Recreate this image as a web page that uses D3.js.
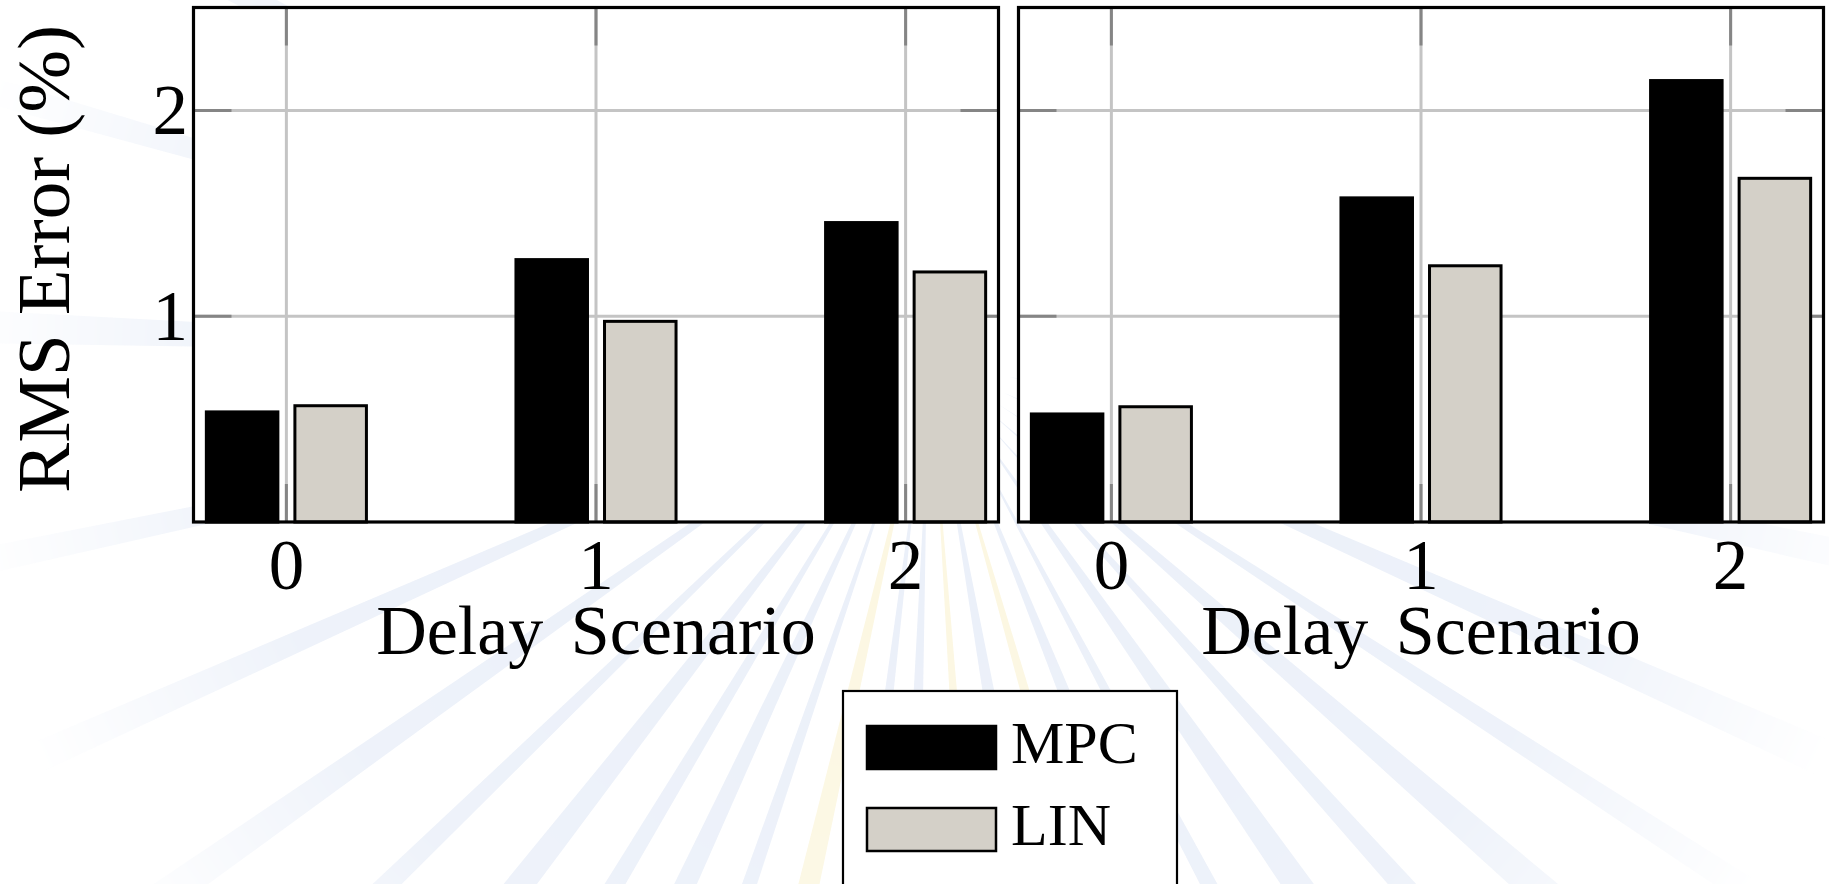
<!DOCTYPE html>
<html>
<head>
<meta charset="utf-8">
<script src="https://cdn.jsdelivr.net/npm/d3@7"></script>
<style>
  html, body { margin: 0; padding: 0; background: #ffffff; }
  svg { display: block; }
  text { font-family: "Liberation Serif", "Times New Roman", serif; fill: #000; }
</style>
</head>
<body>
<svg id="chart" width="1829" height="884"></svg>
<script>
// ---- data ----
const categories = [0, 1, 2];
const seriesNames = ["MPC", "LIN"];
const seriesColors = ["#000000", "#d4d0c8"];
const leftMPC = [0.535, 1.275, 1.455];
const leftLIN = [0.565, 0.975, 1.215];
const rightMPC = [0.525, 1.575, 2.145];
const rightLIN = [0.56, 1.245, 1.67];
const yTicks = [1, 2];
const yLabel = "RMS Error (%)";
const xLabel = "Delay Scenario";

// ---- faint background sunburst (angle in degrees, half-width in degrees, tone) ----
const rayAngles = [12, 24, 33, 41, 48, 55, 62, 68, 74, 80, 86, 92, 97, 103, 109, 115, 121, 128, 136, 145, 156, 168, 182, 196, 208];
const rayWidths = [0.9, 1.1, 0.8, 1.2, 0.9, 1.3, 0.8, 1.1, 0.9, 1.2, 0.8, 1.0, 0.9, 1.2, 0.8, 1.1, 0.9, 1.2, 0.8, 1.0, 0.9, 0.8, 1.0, 0.8, 0.9];
const rayTones = ["b","b","b","b","b","b","b","b","y","b","y","b","b","y","b","b","b","b","b","b","b","b","b","b","b"];

const svg = d3.select("#chart");

// sunburst behind everything, fading out with distance
const cx = 930, cy = 360, rOuter = 1150, rInner = 80;
const defs = svg.append("defs");
const fade = defs.append("radialGradient").attr("id", "rayFade")
  .attr("gradientUnits", "userSpaceOnUse")
  .attr("cx", cx).attr("cy", cy).attr("r", rOuter);
fade.append("stop").attr("offset", "0.2").attr("stop-color", "#fff").attr("stop-opacity", 1);
fade.append("stop").attr("offset", "0.6").attr("stop-color", "#fff").attr("stop-opacity", 0.85);
fade.append("stop").attr("offset", "0.85").attr("stop-color", "#fff").attr("stop-opacity", 0);
defs.append("mask").attr("id", "rayMask")
  .append("rect").attr("x", 0).attr("y", 0).attr("width", 1829).attr("height", 884)
  .attr("fill", "url(#rayFade)");

const rays = svg.append("g").attr("class", "rays").attr("mask", "url(#rayMask)");
const rad = d => d * Math.PI / 180;
rayAngles.forEach((a, i) => {
  const w = rayWidths[i];
  const p1 = [cx + rInner * Math.cos(rad(a)), cy + rInner * Math.sin(rad(a))];
  const p2 = [cx + rOuter * Math.cos(rad(a - w)), cy + rOuter * Math.sin(rad(a - w))];
  const p3 = [cx + rOuter * Math.cos(rad(a + w)), cy + rOuter * Math.sin(rad(a + w))];
  rays.append("path")
    .attr("d", d3.line()([p1, p2, p3]) + "Z")
    .attr("fill", rayTones[i] === "y" ? "#fcf7e2" : "#ebf0f9");
});

// ---- panels ----
const yTop = 7.5, yBottom = 522;
const panels = [
  { x0: 193.5, x1: 998.5, mpc: leftMPC, lin: leftLIN, showY: true },
  { x0: 1018.5, x1: 1823.5, mpc: rightMPC, lin: rightLIN, showY: false }
];

const y = d3.scaleLinear().domain([0, 2.5]).range([yBottom, yTop]);
const barW = 0.231;     // bar width in category units
const barShift = 0.143; // offset of each bar from its category
const tickLen = 38;

panels.forEach(p => {
  const x = d3.scaleLinear().domain([-0.3, 2.3]).range([p.x0, p.x1]);
  const g = svg.append("g");

  // plot background
  g.append("rect")
    .attr("x", p.x0).attr("y", yTop)
    .attr("width", p.x1 - p.x0).attr("height", yBottom - yTop)
    .attr("fill", "#ffffff");

  // grid
  g.selectAll("line.gy").data(yTicks).join("line")
    .attr("x1", p.x0).attr("x2", p.x1)
    .attr("y1", d => y(d)).attr("y2", d => y(d))
    .attr("stroke", "#c4c4c4").attr("stroke-width", 3);
  g.selectAll("line.gx").data(categories).join("line")
    .attr("x1", d => x(d)).attr("x2", d => x(d))
    .attr("y1", yTop).attr("y2", yBottom)
    .attr("stroke", "#c4c4c4").attr("stroke-width", 3);

  // inner tick marks on all four sides
  const tickCol = "#858585";
  yTicks.forEach(t => {
    g.append("line").attr("x1", p.x0).attr("x2", p.x0 + tickLen)
      .attr("y1", y(t)).attr("y2", y(t)).attr("stroke", tickCol).attr("stroke-width", 3);
    g.append("line").attr("x1", p.x1 - tickLen).attr("x2", p.x1)
      .attr("y1", y(t)).attr("y2", y(t)).attr("stroke", tickCol).attr("stroke-width", 3);
  });
  categories.forEach(c => {
    g.append("line").attr("x1", x(c)).attr("x2", x(c))
      .attr("y1", yTop).attr("y2", yTop + tickLen).attr("stroke", tickCol).attr("stroke-width", 3);
    g.append("line").attr("x1", x(c)).attr("x2", x(c))
      .attr("y1", yBottom - tickLen).attr("y2", yBottom).attr("stroke", tickCol).attr("stroke-width", 3);
  });

  // bars
  const series = [p.mpc, p.lin];
  series.forEach((vals, si) => {
    const shift = si === 0 ? -barShift : barShift;
    g.selectAll(null).data(categories).join("rect")
      .attr("x", d => x(d + shift - barW / 2))
      .attr("width", d => x(d + shift + barW / 2) - x(d + shift - barW / 2))
      .attr("y", (d, i) => y(vals[i]))
      .attr("height", (d, i) => y(0) - y(vals[i]))
      .attr("fill", seriesColors[si])
      .attr("stroke", "#000").attr("stroke-width", 3);
  });

  // frame
  g.append("rect")
    .attr("x", p.x0).attr("y", yTop)
    .attr("width", p.x1 - p.x0).attr("height", yBottom - yTop)
    .attr("fill", "none").attr("stroke", "#000").attr("stroke-width", 3.2);

  // x tick labels
  g.selectAll("text.xt").data(categories).join("text")
    .attr("x", d => x(d)).attr("y", 589)
    .attr("text-anchor", "middle")
    .attr("font-size", 71)
    .text(d => d);

  // x axis title
  g.append("text")
    .attr("x", (p.x0 + p.x1) / 2).attr("y", 654)
    .attr("text-anchor", "middle")
    .attr("font-size", 70)
    .attr("word-spacing", 10)
    .text(xLabel);

  if (p.showY) {
    g.selectAll("text.yt").data(yTicks).join("text")
      .attr("x", 188).attr("y", d => y(d) + 24)
      .attr("text-anchor", "end")
      .attr("font-size", 71)
      .text(d => d);
  }
});

// y axis title
svg.append("text")
  .attr("transform", "translate(69,259) rotate(-90)")
  .attr("text-anchor", "middle")
  .attr("font-size", 75)
  .attr("textLength", 468)
  .attr("lengthAdjust", "spacing")
  .text(yLabel);

// ---- legend ----
const lg = svg.append("g");
lg.append("rect")
  .attr("x", 843).attr("y", 691)
  .attr("width", 334).attr("height", 240)
  .attr("fill", "#ffffff").attr("stroke", "#000").attr("stroke-width", 2.2);
const legendY = d3.scalePoint().domain(seriesNames).range([747.5, 829.5]);
seriesNames.forEach((name, i) => {
  lg.append("rect")
    .attr("x", 867).attr("y", legendY(name) - 21.5)
    .attr("width", 129).attr("height", 43)
    .attr("fill", seriesColors[i])
    .attr("stroke", "#000").attr("stroke-width", 2.5);
  lg.append("text")
    .attr("x", 1011).attr("y", legendY(name) + 15.5)
    .attr("font-size", 60)
    .text(name);
});
</script>
</body>
</html>
